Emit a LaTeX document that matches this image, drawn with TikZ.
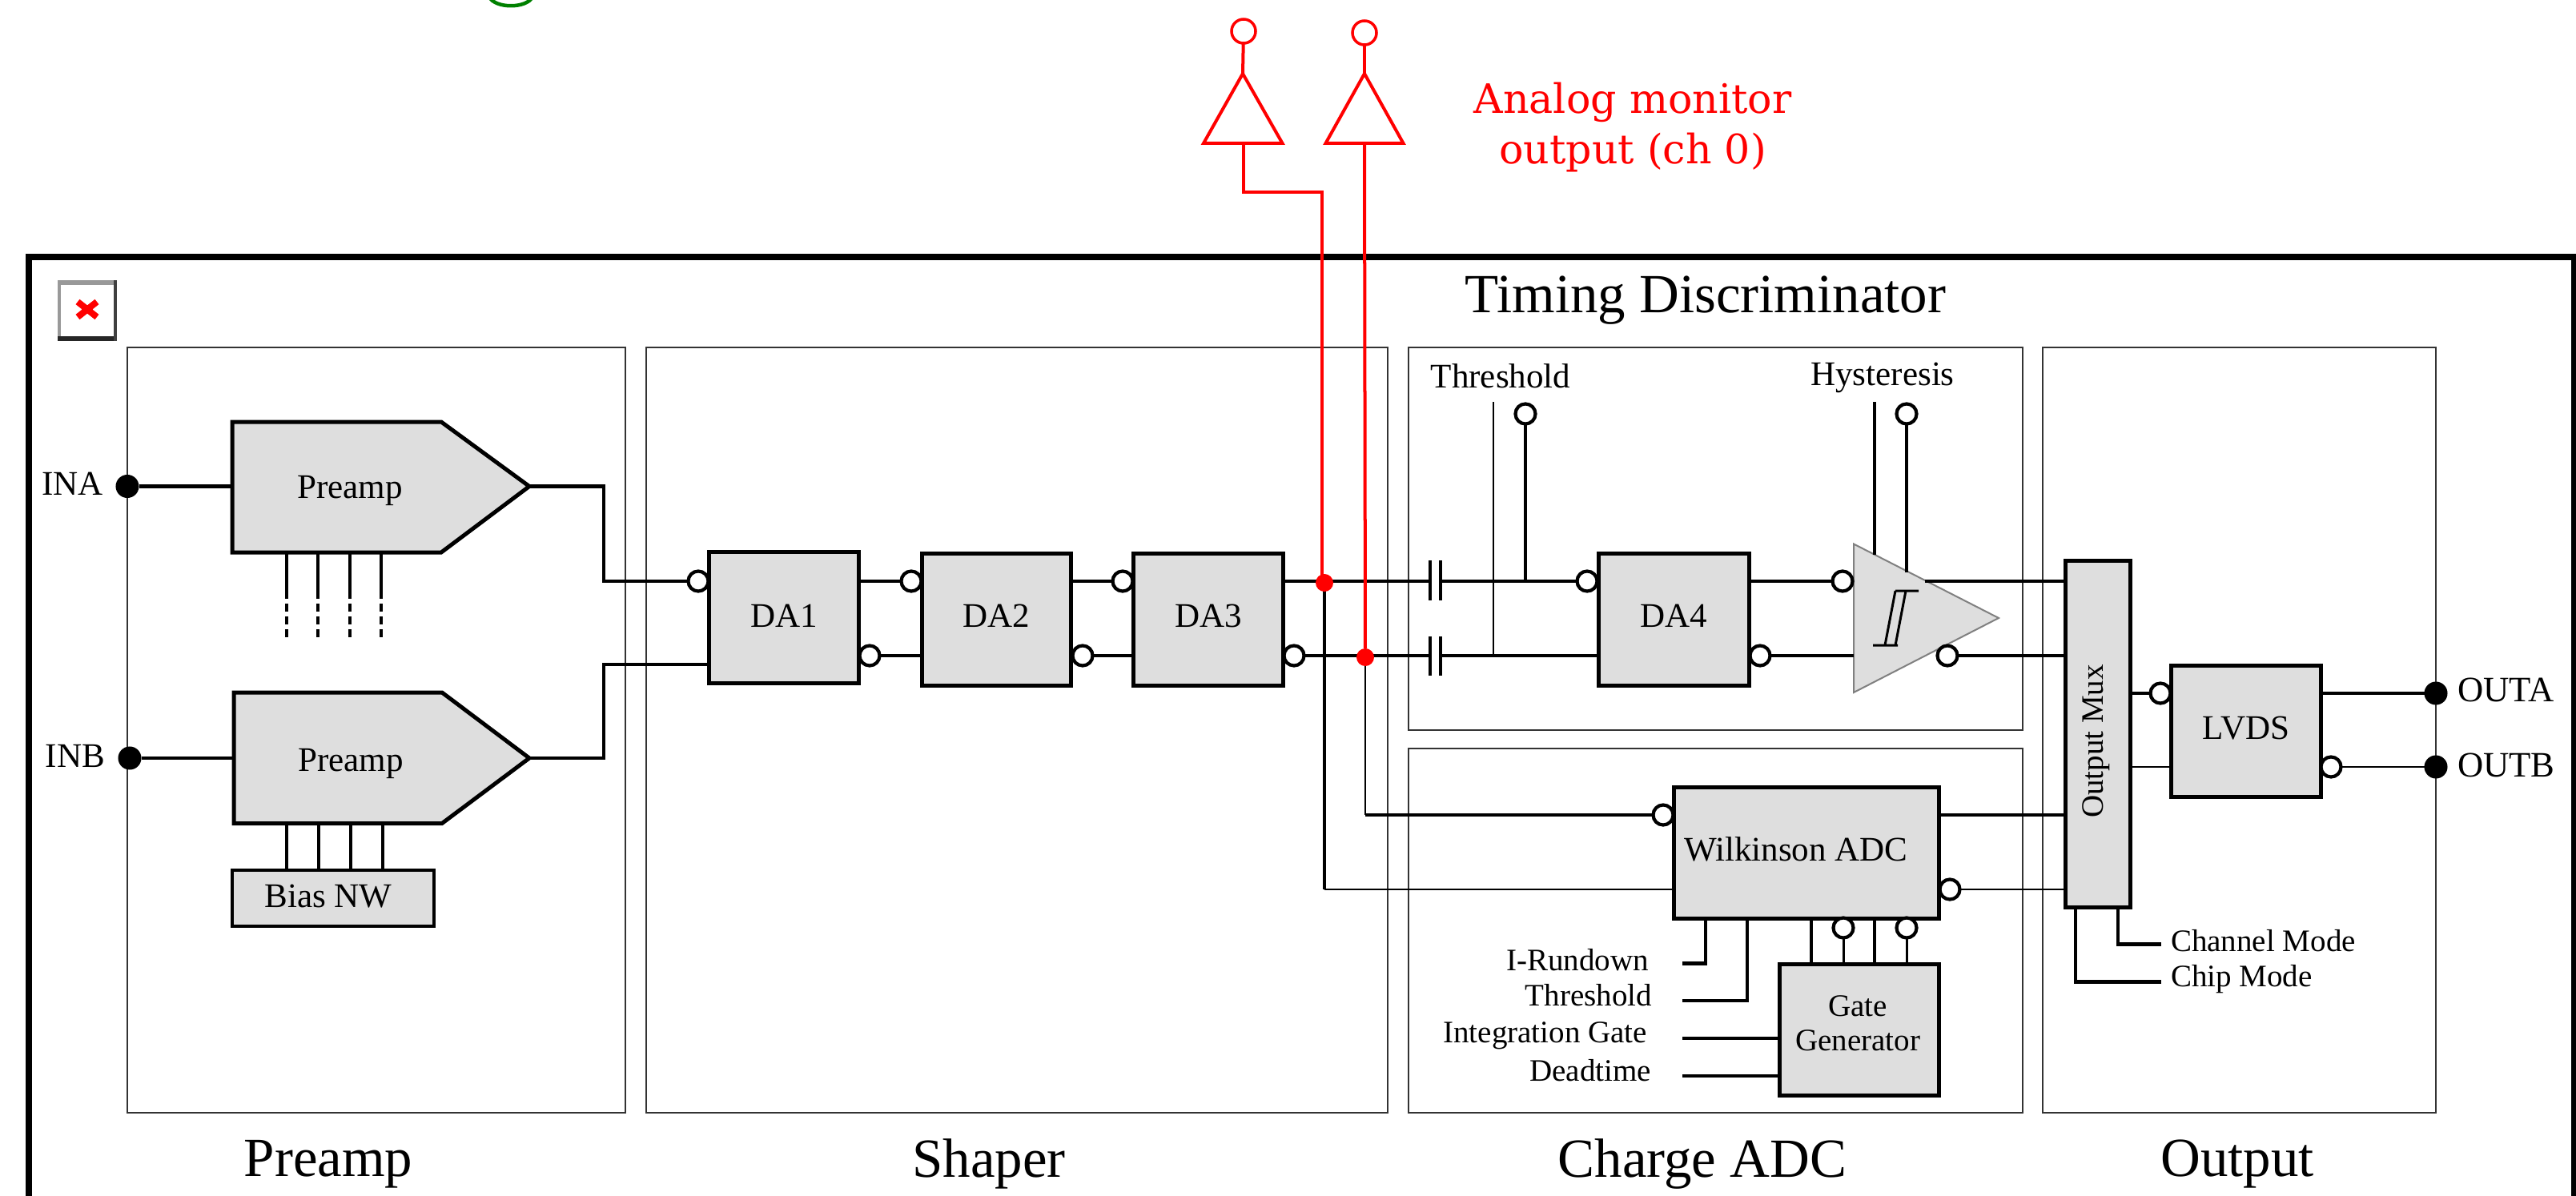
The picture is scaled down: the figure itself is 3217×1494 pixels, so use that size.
\documentclass[tikz,border=0pt]{standalone}
\usepackage{fontspec}
\setmainfont{Liberation Serif}
\newfontfamily\redfont{DejaVu Serif}
\newcommand{\smalltext}{\fontsize{12.25pt}{12.25pt}\selectfont}
\newcommand{\ctltext}{\fontsize{11.1pt}{11.1pt}\selectfont}
\newcommand{\bigtext}{\fontsize{19.6pt}{22pt}\selectfont}
\definecolor{blockgray}{HTML}{DEDEDE}
\definecolor{panelline}{HTML}{333333}
\definecolor{titlegreen}{RGB}{0,128,0}
\tikzset{
  panel/.style={draw=panelline,line width=0.2mm,inner sep=0,outer sep=0},
  block/.style={draw=black,fill=blockgray,line width=0.5mm,inner sep=0,outer sep=0,font=\smalltext},
  lbl/.style={inner sep=0,outer sep=0,font=\smalltext},
  ctl/.style={inner sep=0,outer sep=0,font=\ctltext},
  biglbl/.style={inner sep=0,outer sep=0,font=\bigtext},
  wire/.style={draw=black,line width=0.42mm},
  thinwire/.style={draw=black,line width=0.22mm},
  invc/.style={circle,draw=black,fill=white,line width=0.42mm,minimum size=0.25cm,inner sep=0,outer sep=0},
  dotc/.style={circle,fill=black,minimum size=0.29cm,inner sep=0,outer sep=0},
  redwire/.style={draw=red,line width=0.4mm},
  redj/.style={circle,fill=red,minimum size=0.22cm,inner sep=0,outer sep=0},
  redc/.style={circle,draw=red,fill=white,line width=0.35mm,minimum size=0.3cm,inner sep=0,outer sep=0},
}
\begin{document}
\begin{tikzpicture}[x=0.01cm,y=-0.01cm]
\useasboundingbox (0,0) rectangle (3217,1494);
\clip (0,0) rectangle (3217,1494);
\fill[white] (0,0) rectangle (3217,1494);

% clipped descender of the cut-off title
\draw[titlegreen,line width=0.45mm] (611,-4) .. controls (618,11) and (658,11) .. (665,-4);

% outer frame
\draw[black,line width=0.7mm] (36,1500) -- (36,321) -- (3214,321) -- (3214,1500);

% broken-image icon
\fill[white] (72,350) rectangle (146,426);
\fill[gray!80] (72,350) rectangle (146,356);
\fill[gray!80] (72,350) rectangle (76,426);
\fill[black!85] (72,420) rectangle (146,426);
\fill[black!75] (142,350) rectangle (146,426);
\draw[red,line width=0.8mm] (97,377) -- (121,396) (121,377) -- (97,396);

% panels
\node[panel,minimum width=6.22cm,minimum height=9.56cm] (pPre) at (470,912) {};
\node[panel,minimum width=9.26cm,minimum height=9.56cm] (pSha) at (1270,912) {};
\node[panel,minimum width=7.67cm,minimum height=4.78cm] (pTim) at (2142.5,673) {};
\node[panel,minimum width=7.67cm,minimum height=4.545cm] (pChg) at (2142.5,1162.75) {};
\node[panel,minimum width=4.905cm,minimum height=9.56cm] (pOut) at (2796.75,912) {};

% panel captions
\node[biglbl] (tTim) at (2130,375) {Timing Discriminator};
\node[biglbl] (tPre) at (410,1454) {Preamp};
\node[biglbl] (tSha) at (1235,1454) {Shaper};
\node[biglbl] (tChg) at (2126,1454) {Charge ADC};
\node[biglbl] (tOut) at (2794,1454) {Output};

% preamps
\draw[black,fill=blockgray,line width=0.5mm] (290,527) coordinate (paNW) -- (551,527) -- (661,607.5) coordinate (paTip) -- (551,690) -- (290,690) coordinate (paSW) -- cycle;
\draw[black,fill=blockgray,line width=0.5mm] (292,865) coordinate (pbNW) -- (552,865) -- (661,947) coordinate (pbTip) -- (552,1028.5) -- (292,1028.5) coordinate (pbSW) -- cycle;
\node[lbl] (tPa) at (437,613) {Preamp};
\node[lbl] (tPb) at (438,954) {Preamp};

% blocks
\node[block,minimum width=1.86cm,minimum height=1.63cm,text depth=0.05cm] (da1) at (979,771.5) {DA1};
\node[block,minimum width=1.85cm,minimum height=1.64cm,text depth=0.1cm] (da2) at (1244.5,774) {DA2};
\node[block,minimum width=1.86cm,minimum height=1.64cm,text depth=0.1cm] (da3) at (1509,774) {DA3};
\node[block,minimum width=1.875cm,minimum height=1.64cm,text depth=0.1cm] (da4) at (2090.25,774) {DA4};
\node[block,minimum width=3.30cm,minimum height=1.63cm] (wilk) at (2256,1065.5) {};
\node[block,minimum width=1.98cm,minimum height=1.63cm] (gate) at (2322,1286.5) {};
\node[block,minimum width=0.81cm,minimum height=4.325cm] (mux) at (2619.5,917.25) {};
\node[block,minimum width=1.86cm,minimum height=1.63cm,text depth=0.09cm] (lvds) at (2805,913.5) {LVDS};
\node[block,line width=0.35mm,minimum width=2.52cm,minimum height=0.70cm] (bias) at (416,1122) {};
\node[lbl] (tBias) at (410,1120) {Bias NW};
\node[lbl] (tWilk) at (2243,1061) {Wilkinson ADC};
\node[ctl,align=center] (tGate) at (2320,1278) {Gate\\[1pt]Generator};
\node[ctl,rotate=90] (tMux) at (2618,926) {Output Mux};

% comparator
\draw[gray,fill=blockgray,line width=0.2mm] (2315,679.5) coordinate (cmpA) -- (2496,772) coordinate (cmpTip) -- (2315,865) coordinate (cmpB) -- cycle;
\draw[black,line width=0.3mm] (2339,806) -- (2370,806) (2354,806) -- (2367,738) (2367,806) -- (2380,738) (2367,738) -- (2396,738);

% ports
\node[dotc] (ina) at (159,607.5) {};
\node[dotc] (inb) at (162,947) {};
\node[dotc] (outa) at (3042,866) {};
\node[dotc] (outb) at (3042,958) {};
\node[lbl,anchor=east] (tIna) at (129,604) {INA};
\node[lbl,anchor=east] (tInb) at (131,944) {INB};
\node[lbl,anchor=west,font=\fontsize{12.7pt}{12.7pt}\selectfont] (tOa) at (3069,862) {OUTA};
\node[lbl,anchor=west,font=\fontsize{12.7pt}{12.7pt}\selectfont] (tOb) at (3069,956) {OUTB};

% inverting bubbles
\node[invc] (c1u) at (872,726) {};
\node[invc] (c1d) at (1086,819) {};
\node[invc] (c2u) at (1138,726) {};
\node[invc] (c2d) at (1352,819) {};
\node[invc] (c3u) at (1402,726) {};
\node[invc] (c3d) at (1616,819) {};
\node[invc] (c4u) at (1982,726) {};
\node[invc] (c4d) at (2198,819) {};
\node[invc] (thC) at (1905,517) {};
\node[invc] (cmpU) at (2301,726) {};
\node[invc] (cmpD) at (2432,819) {};
\node[invc] (hyC) at (2381,517) {};
\node[invc] (wIn) at (2077,1018) {};
\node[invc] (wOut) at (2435,1111) {};
\node[invc] (gC1) at (2302,1159) {};
\node[invc] (gC2) at (2381,1159) {};
\node[invc] (muxC) at (2698,866) {};
\node[invc] (lvC) at (2911,958) {};

% free ends and capacitors
\coordinate (capUa) at (1786,726);
\coordinate (capUb) at (1799,726);
\coordinate (capDa) at (1786,819);
\coordinate (capDb) at (1799,819);
\coordinate (jU) at (1654,726);
\coordinate (jLow) at (1654,1111);
\coordinate (jD) at (1705,819);
\coordinate (jDLow) at (1705,1018);
\coordinate (thThinTop) at (1865,502);
\coordinate (thThinBot) at (1865,819);
\coordinate (thJ) at (1905,726);
\coordinate (hyThinTop) at (2341,502);
\coordinate (hyThinBot) at (2341,693);
\coordinate (hyBot) at (2381,715);
\coordinate (cmpOutU) at (2404,726);
\coordinate (lIrun) at (2101,1203.5);
\coordinate (lThr) at (2101,1250);
\coordinate (lInt) at (2101,1297);
\coordinate (lDead) at (2101,1344);
\coordinate (lCh) at (2699,1179.5);
\coordinate (lChip) at (2699,1226.5);

% capacitor plates
\draw[wire] (1786,700) -- (1786,750) (1799,700) -- (1799,750);
\draw[wire] (1786,795) -- (1786,844) (1799,795) -- (1799,844);

% preamp stubs
\foreach \i/\x in {a/358,b/397,c/437,d/476}{
  \coordinate (sa\i) at (\x,690);
  \coordinate (sam\i) at (\x,738);
  \coordinate (sae\i) at (\x,797);
  \draw[wire] (sa\i) -- (sam\i);
  \draw[wire,dash pattern=on 0.1cm off 0.06cm] (sam\i) -- (sae\i);
}
\foreach \i/\x in {a/358,b/398,c/438,d/478}{
  \coordinate (sb\i) at (\x,1028.5);
  \draw[wire] (sb\i) -- (sb\i |- bias.north);
}

% input wires
\draw[wire] (ina) -- (ina -| paNW);
\draw[wire] (inb) -- (inb -| pbNW);
\draw[wire] (paTip) -- (754,607.5) -- (754,726) -- (c1u);
\draw[wire] (pbTip) -- (754,947) -- (754,830) -- (da1.west |- 0,830);

% shaper chain
\draw[wire] (da1.east |- c2u) -- (c2u);
\draw[wire] (c1d) -- (c1d -| da2.west);
\draw[wire] (da2.east |- c3u) -- (c3u);
\draw[wire] (c2d) -- (c2d -| da3.west);
\draw[wire] (da3.east |- capUa) -- (capUa);
\draw[wire] (c3d) -- (capDa);
\draw[wire] (capUb) -- (c4u);
\draw[wire] (capDb) -- (capDb -| da4.west);
\draw[thinwire] (thThinTop) -- (thThinBot);
\draw[wire] (thC) -- (thJ);

% discriminator
\draw[wire] (da4.east |- cmpU) -- (cmpU);
\draw[wire] (c4d) -- (c4d -| cmpA);
\draw[wire] (hyThinTop) -- (hyThinBot);
\draw[wire,line width=0.35mm] (hyC) -- (hyBot);
\draw[wire] (cmpOutU) -- (cmpOutU -| mux.west);
\draw[wire,line width=0.35mm] (cmpD) -- (cmpD -| mux.west);

% ADC
\draw[wire] (jU) -- (jLow);
\draw[thinwire] (jLow) -- (jLow -| wilk.west);
\draw[thinwire] (jD) -- (jDLow);
\draw[wire] (jDLow) -- (wIn);
\draw[wire] (wilk.east |- wIn) -- (wIn -| mux.west);
\draw[thinwire] (wOut) -- (wOut -| mux.west);
\draw[wire] (2130,1147) -- (2130,1203.5) -- (lIrun);
\draw[wire] (2182,1147) -- (2182,1250) -- (lThr);
\draw[wire] (2262,1147) -- (2262,1205);
\draw[wire,line width=0.3mm] (gC1) -- (gC1 |- gate.north);
\draw[wire] (2341,1147) -- (2341,1205);
\draw[wire,line width=0.3mm] (gC2) -- (gC2 |- gate.north);
\draw[wire] (lInt) -- (lInt -| gate.west);
\draw[wire] (lDead) -- (lDead -| gate.west);

% labels of control inputs
\node[ctl,anchor=east] (tIrun) at (2059,1199) {I-Rundown};
\node[ctl,anchor=east] (tThr2) at (2063,1243) {Threshold};
\node[ctl,anchor=east] (tInt) at (2057,1294) {Integration Gate};
\node[ctl,anchor=east] (tDead) at (2062,1337) {Deadtime};
\node[lbl] (tThr1) at (1874,470) {Threshold};
\node[lbl] (tHys) at (2351,472) {Hysteresis};
\node[ctl,anchor=west] (tCh) at (2711,1175) {Channel Mode};
\node[ctl,anchor=west] (tChip) at (2711,1223) {Chip Mode};

% output
\draw[wire] (mux.east |- muxC) -- (muxC);
\draw[thinwire] (mux.east |- lvC) -- (lvC -| lvds.west);
\draw[wire] (lvds.east |- outa) -- (outa);
\draw[thinwire] (lvC) -- (outb);
\draw[wire] (2645,1133.5) -- (2645,1179.5) -- (lCh);
\draw[wire] (2592,1133.5) -- (2592,1226.5) -- (lChip);

% analog monitor (red)
\coordinate (tr1a) at (1552,92);
\coordinate (tr1m) at (1553,179);
\coordinate (tr2a) at (1704,92);
\coordinate (tr2m) at (1704,179);
\draw[redwire] (1503,179) -- (tr1a) -- (1601.5,179) -- cycle;
\draw[redwire] (1655.5,179) -- (tr2a) -- (1752.5,179) -- cycle;
\node[redc] (mo1) at (1553,39) {};
\node[redc] (mo2) at (1704,41) {};
\draw[redwire] (mo1) -- (tr1a);
\draw[redwire] (mo2) -- (tr2a);
\node[redj] (rj1) at (1654,728) {};
\node[redj] (rj2) at (1705,821) {};
\draw[redwire] (tr1m) -- (1553,240) -- (1651,240) -- (1651,728);
\draw[redwire] (tr2m) -- (rj2);
\node[inner sep=0,outer sep=0,align=center,text=red,font=\redfont\fontsize{14.4pt}{18pt}\selectfont] (tRed) at (2039,159) {Analog monitor\\output (ch 0)};
\end{tikzpicture}
\end{document}
